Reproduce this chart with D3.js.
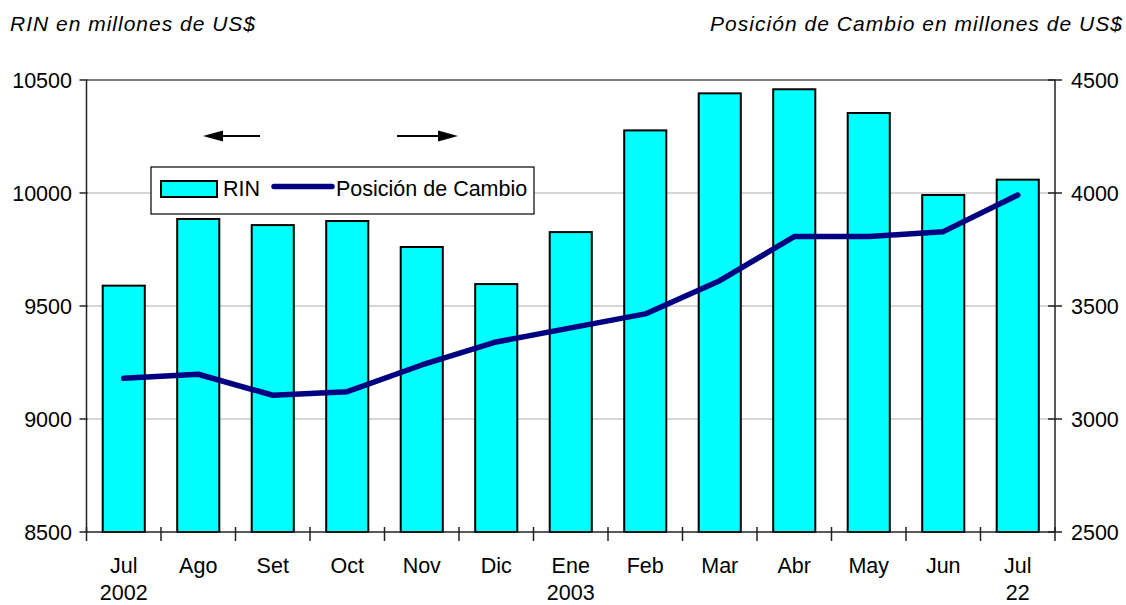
<!DOCTYPE html>
<html>
<head>
<meta charset="utf-8">
<script src="https://cdn.jsdelivr.net/npm/d3@7"></script>
<style>
  html, body { margin: 0; padding: 0; background: #fff; }
  svg { display: block; font-family: "Liberation Sans", Arial, sans-serif; }
</style>
</head>
<body>
<div id="chart"></div>
<script>
// categories (month labels and the year row below them)
const months = ['Jul', 'Ago', 'Set', 'Oct', 'Nov', 'Dic', 'Ene', 'Feb', 'Mar', 'Abr', 'May', 'Jun', 'Jul'];
const years = ['2002', '', '', '', '', '', '2003', '', '', '', '', '', '22'];

// RIN, millones de US$ (left axis)
const rin = [9590, 9885, 9858, 9876, 9761, 9597, 9827, 10277, 10441, 10459, 10354, 9991, 10059];
// Posición de Cambio, millones de US$ (right axis)
const posicion = [3180, 3198, 3105, 3121, 3239, 3341, 3403, 3465, 3612, 3807, 3807, 3829, 3991];

const leftTicks = [8500, 9000, 9500, 10000, 10500];
const rightTicks = [2500, 3000, 3500, 4000, 4500];

const width = 1126, height = 605;
const margin = { top: 80, right: 71, bottom: 73, left: 86.5 };

const svg = d3.select('#chart').append('svg')
  .attr('width', width)
  .attr('height', height);

const idx = d3.range(months.length);

const x = d3.scaleBand()
  .domain(idx)
  .range([margin.left, width - margin.right])
  .padding(0);

const yL = d3.scaleLinear().domain([8500, 10500]).range([height - margin.bottom, margin.top]);
const yR = d3.scaleLinear().domain([2500, 4500]).range([height - margin.bottom, margin.top]);

const x0 = margin.left, x1 = width - margin.right;
const yBottom = height - margin.bottom;

// titles
svg.append('text')
  .attr('x', 10).attr('y', 31)
  .attr('font-size', 21).attr('font-style', 'italic')
  .attr('textLength', 245).attr('lengthAdjust', 'spacing')
  .text('RIN en millones de US$');

svg.append('text')
  .attr('x', 710).attr('y', 31)
  .attr('font-size', 21).attr('font-style', 'italic')
  .attr('textLength', 412).attr('lengthAdjust', 'spacing')
  .text('Posición de Cambio en millones de US$');

// gridlines
svg.append('g').selectAll('line')
  .data(leftTicks.slice(1))
  .join('line')
  .attr('x1', x0).attr('x2', x1)
  .attr('y1', d => yL(d)).attr('y2', d => yL(d))
  .attr('stroke', d => d === 10500 ? '#808080' : '#c8c8c8')
  .attr('stroke-width', d => d === 10500 ? 2 : 1.5);

// bars
const barW = x.bandwidth() * 0.565;
svg.append('g').selectAll('rect')
  .data(rin)
  .join('rect')
  .attr('x', (d, i) => x(i) + (x.bandwidth() - barW) / 2)
  .attr('y', d => yL(d))
  .attr('width', barW)
  .attr('height', d => yBottom - yL(d))
  .attr('fill', '#00ffff')
  .attr('stroke', '#000')
  .attr('stroke-width', 2);

// line
const line = d3.line()
  .x((d, i) => x(i) + x.bandwidth() / 2)
  .y(d => yR(d));

svg.append('path')
  .datum(posicion)
  .attr('d', line)
  .attr('fill', 'none')
  .attr('stroke', '#000080')
  .attr('stroke-width', 5.5)
  .attr('stroke-linecap', 'round')
  .attr('stroke-linejoin', 'round');

// axes
const axisColor = '#222';
svg.append('line')
  .attr('x1', x0).attr('x2', x0).attr('y1', margin.top).attr('y2', yBottom)
  .attr('stroke', axisColor).attr('stroke-width', 1.5);
svg.append('line')
  .attr('x1', x1).attr('x2', x1).attr('y1', margin.top).attr('y2', yBottom)
  .attr('stroke', axisColor).attr('stroke-width', 1.5);
svg.append('line')
  .attr('x1', x0).attr('x2', x1).attr('y1', yBottom).attr('y2', yBottom)
  .attr('stroke', axisColor).attr('stroke-width', 1.5);

// left ticks + labels
const gl = svg.append('g');
gl.selectAll('line')
  .data(leftTicks)
  .join('line')
  .attr('x1', x0 - 7).attr('x2', x0 + 1)
  .attr('y1', d => yL(d)).attr('y2', d => yL(d))
  .attr('stroke', axisColor).attr('stroke-width', 1.5);
gl.selectAll('text')
  .data(leftTicks)
  .join('text')
  .attr('x', 72).attr('y', d => yL(d))
  .attr('dy', '0.35em')
  .attr('text-anchor', 'end')
  .attr('font-size', 21.5)
  .text(d => d);

// right ticks + labels
const gr = svg.append('g');
gr.selectAll('line')
  .data(rightTicks)
  .join('line')
  .attr('x1', x1 - 7).attr('x2', x1 + 7)
  .attr('y1', d => yR(d)).attr('y2', d => yR(d))
  .attr('stroke', axisColor).attr('stroke-width', 1.5);
gr.selectAll('text')
  .data(rightTicks)
  .join('text')
  .attr('x', 1071).attr('y', d => yR(d))
  .attr('dy', '0.35em')
  .attr('font-size', 21.5)
  .text(d => d);

// x ticks at band edges
const edges = idx.map(i => x(i)).concat([x1]);
svg.append('g').selectAll('line')
  .data(edges)
  .join('line')
  .attr('x1', d => d).attr('x2', d => d)
  .attr('y1', yBottom - 5).attr('y2', yBottom + 9)
  .attr('stroke', axisColor).attr('stroke-width', 1.5);

// x labels
const gx = svg.append('g').attr('font-size', 21.5).attr('text-anchor', 'middle');
gx.selectAll('text.m')
  .data(months)
  .join('text')
  .attr('class', 'm')
  .attr('x', (d, i) => x(i) + x.bandwidth() / 2)
  .attr('y', 573)
  .text(d => d);
gx.selectAll('text.yr')
  .data(years)
  .join('text')
  .attr('class', 'yr')
  .attr('x', (d, i) => x(i) + x.bandwidth() / 2)
  .attr('y', 600)
  .text(d => d);

// arrows (left axis / right axis hint)
function arrow(xa, xb, yv) {
  const dir = Math.sign(xb - xa);
  svg.append('line')
    .attr('x1', xa).attr('x2', xb - dir * 14).attr('y1', yv).attr('y2', yv)
    .attr('stroke', '#000').attr('stroke-width', 2);
  svg.append('path')
    .attr('d', `M${xb},${yv} L${xb - dir * 20},${yv - 5.5} L${xb - dir * 20},${yv + 5.5} Z`)
    .attr('fill', '#000');
}
arrow(260, 203, 136);
arrow(397, 458, 136);

// legend
const lg = svg.append('g');
lg.append('rect')
  .attr('x', 151).attr('y', 167).attr('width', 383).attr('height', 47)
  .attr('fill', '#fff').attr('stroke', '#000').attr('stroke-width', 1.2);
lg.append('rect')
  .attr('x', 161).attr('y', 181).attr('width', 56).attr('height', 16)
  .attr('fill', '#00ffff').attr('stroke', '#000').attr('stroke-width', 2);
lg.append('text')
  .attr('x', 223).attr('y', 196).attr('font-size', 21.5)
  .text('RIN');
lg.append('line')
  .attr('x1', 274).attr('x2', 332).attr('y1', 186.5).attr('y2', 186.5)
  .attr('stroke', '#000080').attr('stroke-width', 5.5).attr('stroke-linecap', 'round');
lg.append('text')
  .attr('x', 336).attr('y', 196).attr('font-size', 21.5)
  .text('Posición de Cambio');
</script>
</body>
</html>
